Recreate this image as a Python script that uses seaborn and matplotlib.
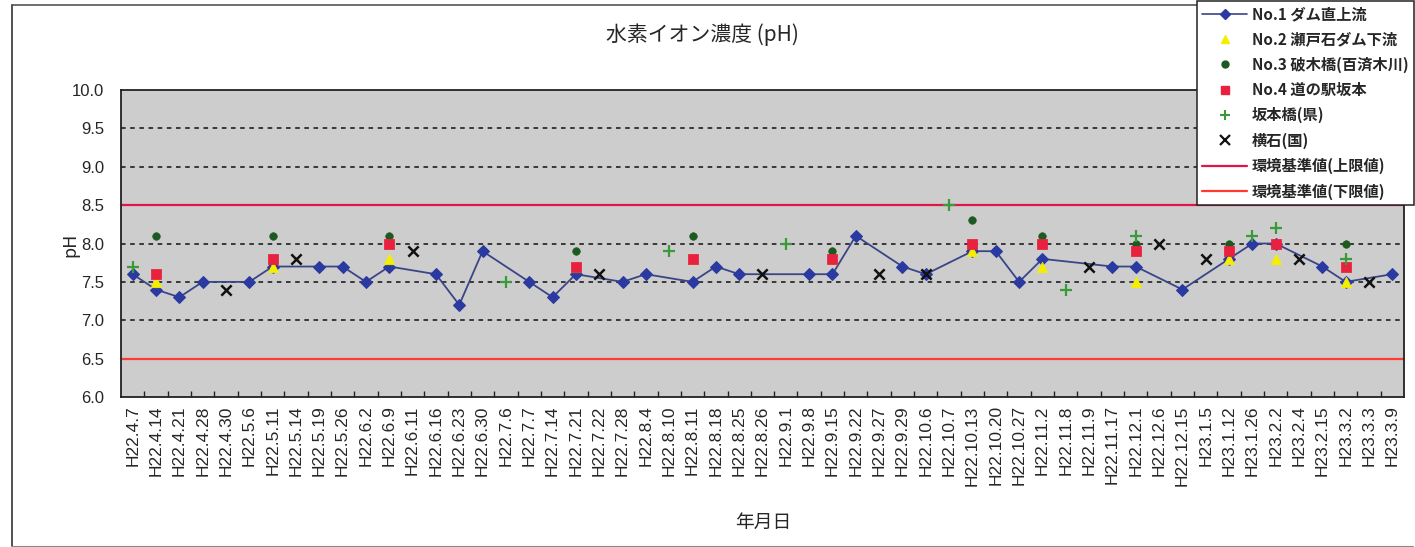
import numpy as np
import pandas as pd
import matplotlib
matplotlib.use("Agg")
import matplotlib.pyplot as plt
from matplotlib.lines import Line2D
import seaborn as sns

sns.set_theme(style="white")
plt.rcParams["font.family"] = ["Liberation Sans", "Noto Sans CJK JP", "DejaVu Sans"]
JP = ["Noto Sans CJK JP", "DejaVu Sans"]

nan = np.nan

# Sampling dates (category axis)
dates = [
    "H22.4.7", "H22.4.14", "H22.4.21", "H22.4.28", "H22.4.30", "H22.5.6", "H22.5.11",
    "H22.5.14", "H22.5.19", "H22.5.26", "H22.6.2", "H22.6.9", "H22.6.11", "H22.6.16",
    "H22.6.23", "H22.6.30", "H22.7.6", "H22.7.7", "H22.7.14", "H22.7.21", "H22.7.22",
    "H22.7.28", "H22.8.4", "H22.8.10", "H22.8.11", "H22.8.18", "H22.8.25", "H22.8.26",
    "H22.9.1", "H22.9.8", "H22.9.15", "H22.9.22", "H22.9.27", "H22.9.29", "H22.10.6",
    "H22.10.7", "H22.10.13", "H22.10.20", "H22.10.27", "H22.11.2", "H22.11.8", "H22.11.9",
    "H22.11.17", "H22.12.1", "H22.12.6", "H22.12.15", "H23.1.5", "H23.1.12", "H23.1.26",
    "H23.2.2", "H23.2.4", "H23.2.15", "H23.3.2", "H23.3.3", "H23.3.9",
]

# No.1 ダム直上流
no1 = [7.6, 7.4, 7.3, 7.5, nan, 7.5, 7.7, nan, 7.7, 7.7, 7.5, 7.7, nan, 7.6,
       7.2, 7.9, nan, 7.5, 7.3, 7.6, nan, 7.5, 7.6, nan, 7.5, 7.7, 7.6, nan,
       nan, 7.6, 7.6, 8.1, nan, 7.7, 7.6, nan, 7.9, 7.9, 7.5, 7.8, nan, nan,
       7.7, 7.7, nan, 7.4, nan, 7.8, 8.0, 8.0, nan, 7.7, 7.5, nan, 7.6]

# Monthly stations (No.2 - No.4) sampled on these dates
monthly_dates = ["H22.4.14", "H22.5.11", "H22.6.9", "H22.7.21", "H22.8.11", "H22.9.15",
                 "H22.10.13", "H22.11.2", "H22.12.1", "H23.1.12", "H23.2.2", "H23.3.2"]
no2 = [7.5, 7.7, 7.8, 7.7, 7.8, 7.8, 7.9, 7.7, 7.5, 7.8, 7.8, 7.5]
no3 = [8.1, 8.1, 8.1, 7.9, 8.1, 7.9, 8.3, 8.1, 8.0, 8.0, 8.0, 8.0]
no4 = [7.6, 7.8, 8.0, 7.7, 7.8, 7.8, 8.0, 8.0, 7.9, 7.9, 8.0, 7.7]

# 坂本橋(県)
pref_dates = ["H22.4.7", "H22.7.6", "H22.8.10", "H22.9.1", "H22.10.7", "H22.11.8",
              "H22.12.1", "H23.1.26", "H23.2.2", "H23.3.2"]
pref_vals = [7.7, 7.5, 7.9, 8.0, 8.5, 7.4, 8.1, 8.1, 8.2, 7.8]

# 横石(国)
nat_dates = ["H22.4.30", "H22.5.14", "H22.6.11", "H22.7.22", "H22.8.26", "H22.9.27",
             "H22.10.6", "H22.11.9", "H22.12.6", "H23.1.5", "H23.2.4", "H23.3.3"]
nat_vals = [7.4, 7.8, 7.9, 7.6, 7.6, 7.6, 7.6, 7.7, 8.0, 7.8, 7.8, 7.5]

upper_limit = 8.5
lower_limit = 6.5

labels = ["No.1 ダム直上流", "No.2 瀬戸石ダム下流", "No.3 破木橋(百済木川)",
          "No.4 道の駅坂本", "坂本橋(県)", "横石(国)",
          "環境基準値(上限値)", "環境基準値(下限値)"]

pos = {d: i for i, d in enumerate(dates)}
df1 = pd.DataFrame({"x": range(len(dates)), "ph": no1}).dropna()
dfm = pd.DataFrame({"x": [pos[d] for d in monthly_dates], "no2": no2, "no3": no3, "no4": no4})
dfp = pd.DataFrame({"x": [pos[d] for d in pref_dates], "ph": pref_vals})
dfn = pd.DataFrame({"x": [pos[d] for d in nat_dates], "ph": nat_vals})

c_blue_line = "#3b4586"
c_blue = "#2b3aa0"
c_yellow = "#f4ee00"
c_green_dot = "#1d5a22"
c_red_sq = "#e8213f"
c_plus = "#3a9a3a"
c_upper = "#e0154a"
c_lower = "#ff3a2e"

W, H = 1415, 547
fig = plt.figure(figsize=(W / 100, H / 100), dpi=100)
fig.patch.set_facecolor("white")

# outer chart frame
fig.add_artist(Line2D([12 / W, 12 / W], [1 - 546 / H, 1 - 5 / H], color="#333333", lw=1.2,
                      transform=fig.transFigure))
fig.add_artist(Line2D([12 / W, 1 - 2 / W], [1 - 5 / H, 1 - 5 / H], color="#555555", lw=1.2,
                      transform=fig.transFigure))
fig.add_artist(Line2D([12 / W, 1 - 2 / W], [1 - 545.5 / H, 1 - 545.5 / H], color="#888888", lw=0.8,
                      transform=fig.transFigure))

ax = fig.add_axes([121 / W, 1 - 397 / H, (1404 - 121) / W, (397 - 90) / H])
ax.set_facecolor("#cdcdcd")

# dashed horizontal grid
for yv in [7.0, 7.5, 8.0, 9.0, 9.5]:
    ax.axhline(yv, color="#111111", lw=1.1, ls=(0, (3, 3)), zorder=1)

ax.axhline(upper_limit, color=c_upper, lw=1.6, zorder=2)
ax.axhline(lower_limit, color=c_lower, lw=1.6, zorder=2)

sns.lineplot(data=df1, x="x", y="ph", ax=ax, color=c_blue_line, lw=1.3, marker="D",
             markersize=6.5, markerfacecolor=c_blue, markeredgecolor=c_blue, zorder=3,
             legend=False)
sns.scatterplot(data=dfm, x="x", y="no2", ax=ax, marker="^", s=55, color=c_yellow,
                edgecolor=c_yellow, zorder=4, legend=False)
sns.scatterplot(data=dfm, x="x", y="no3", ax=ax, marker="o", s=30, color=c_green_dot,
                edgecolor=c_green_dot, zorder=4, legend=False)
sns.scatterplot(data=dfm, x="x", y="no4", ax=ax, marker="s", s=48, color=c_red_sq,
                edgecolor=c_red_sq, zorder=5, legend=False)
sns.scatterplot(data=dfp, x="x", y="ph", ax=ax, marker="+", s=70, color=c_plus,
                linewidth=1.6, zorder=5, legend=False)
sns.scatterplot(data=dfn, x="x", y="ph", ax=ax, marker="x", s=55, color="#111111",
                linewidth=1.8, zorder=5, legend=False)

ax.set_xlim(-0.5, len(dates) - 0.5)
ax.set_ylim(6.0, 10.0)
ax.set_yticks(np.arange(6.0, 10.01, 0.5))
ax.set_yticklabels([f"{v:.1f}" for v in np.arange(6.0, 10.01, 0.5)], fontsize=12)
ax.set_xticks(range(len(dates)))
ax.set_xticklabels(dates, rotation=90, fontsize=12.5)
ax.set_xticks(np.arange(0.5, len(dates) - 1, 1.0), minor=True)
ax.tick_params(axis="x", which="major", length=0, pad=6)
ax.tick_params(axis="x", which="minor", direction="in", length=4, width=1, color="#222222",
               bottom=True)
ax.tick_params(axis="y", length=0, pad=12)
ax.set_xlabel("")
ax.set_ylabel("")
for sp in ax.spines.values():
    sp.set_color("#222222")
    sp.set_linewidth(1.3)

fig.text(70 / W, 1 - 245 / H, "pH", rotation=90, ha="center", va="center", fontsize=13,
         family=JP)
fig.text(763 / W, 1 - 522 / H, "年月日", ha="center", va="center", fontsize=13.5, family=JP)
fig.text(702 / W, 1 - 35 / H, "水素イオン濃度 (pH)", ha="center", va="center", fontsize=15,
         family=JP)

handles = [
    Line2D([], [], color=c_blue_line, lw=1.2, marker="D", markersize=5,
           markerfacecolor=c_blue, markeredgecolor=c_blue),
    Line2D([], [], ls="none", marker="^", markersize=6, color=c_yellow),
    Line2D([], [], ls="none", marker="o", markersize=5, color=c_green_dot),
    Line2D([], [], ls="none", marker="s", markersize=5.5, color=c_red_sq),
    Line2D([], [], ls="none", marker="+", markersize=7, color=c_plus, markeredgewidth=1.5),
    Line2D([], [], ls="none", marker="x", markersize=6.5, color="#111111", markeredgewidth=1.6),
    Line2D([], [], color=c_upper, lw=1.6),
    Line2D([], [], color=c_lower, lw=1.6),
]
leg = fig.legend(handles, labels, loc="upper left", bbox_to_anchor=(1197 / W, 1 - 1 / H),
                 bbox_transform=fig.transFigure, prop={"family": JP, "size": 11, "weight": "bold"},
                 frameon=True, fancybox=False, framealpha=1, edgecolor="#222222",
                 handlelength=2.9, handletextpad=0.35, labelspacing=0.6, borderpad=0.35,
                 borderaxespad=0)
leg.get_frame().set_linewidth(1.1)
leg.set_zorder(10)

fig.savefig("out.png", dpi=100, facecolor="white")
